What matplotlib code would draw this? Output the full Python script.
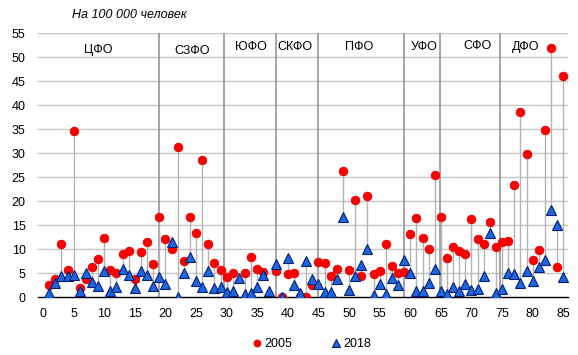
import numpy as np
import matplotlib
matplotlib.use("Agg")
import matplotlib.pyplot as plt
from matplotlib.lines import Line2D

plt.rcParams['font.family'] = ['Liberation Sans', 'DejaVu Sans']

regions = list(range(1, 86))

values_2005 = [
    2.6, 3.8, 11.0, 5.6, 34.6, 1.95, 3.7, 6.3, 7.9, 12.4,
    5.6, 5.1, 9.0, 9.6, 3.7, 9.4, 11.5, 6.9, 16.7, 12.2,
    10.0, 31.3, 7.5, 16.7, 13.4, 28.5, 11.0, 7.2, 5.6, 4.2,
    5.1, np.nan, 5.0, 8.3, 5.8, 5.3, np.nan, 5.4, 0.0, 4.8,
    5.0, 0.1, 0.1, 2.6, 7.3, 7.1, 4.4, 5.8, 26.2, 5.6,
    20.2, 4.4, 21.0, 4.9, 5.4, 11.0, 6.4, 5.1, 5.2, 13.1,
    16.5, 12.4, 10.0, 25.4, 16.7, 8.2, 10.5, 9.6, 9.0, 16.2,
    12.1, 11.0, 15.7, 10.5, 11.5, 11.7, 23.3, 38.6, 29.8, 7.7,
    9.9, 34.8, 51.8, 6.3, 46.0,
]

values_2018 = [
    0.9, 2.9, 4.4, 4.4, 4.7, 1.3, 5.1, 3.2, 2.4, 5.4,
    1.2, 2.2, 5.8, 4.6, 1.9, 5.4, 4.6, 2.3, 4.2, 2.8,
    11.5, 0.0, 5.0, 8.3, 3.3, 2.2, 5.4, 2.0, 2.2, 1.0,
    1.2, 3.9, 0.7, 0.8, 2.1, 4.7, 1.3, 6.9, 0.0, 8.2,
    2.6, 0.8, 7.6, 3.7, 2.7, 1.0, 1.0, 3.8, 16.6, 1.5,
    4.5, 6.6, 10.0, 0.5, 2.7, 0.7, 4.0, 2.6, 7.8, 5.1,
    1.3, 1.3, 3.0, 5.9, 1.25, 0.55, 2.1, 1.2, 2.8, 1.5,
    1.7, 4.4, 13.3, 0.8, 1.7, 5.1, 4.9, 3.0, 5.4, 3.3,
    6.3, 7.8, 18.1, 15.0, 4.1,
]

districts = ["ЦФО", "СЗФО", "ЮФО", "СКФО", "ПФО", "УФО", "СФО", "ДФО"]
district_label_x = [9.0, 24.3, 34.0, 41.2, 51.7, 62.2, 71.0, 78.8]
district_label_y = [51.5, 51.2, 52.0, 52.0, 52.0, 52.0, 52.3, 52.0]
district_separators = [18.9, 29.5, 38.05, 44.85, 58.95, 64.85, 74.7]

series_labels = ["2005", "2018"]
title_text = "На 100 000 человек"

x_ticks = list(range(0, 86, 5))
y_ticks = list(range(0, 56, 5))

fig = plt.figure(figsize=(5.78, 3.55), dpi=100)
ax = fig.add_axes([0.066, 0.163, 0.917, 0.744])

x = np.array(regions, dtype=float)
a = np.array(values_2005, dtype=float)
b = np.array(values_2018, dtype=float)

# grid
for yt in y_ticks[1:]:
    ax.axhline(yt, color="#c6c6c6", lw=1.0, zorder=0)

# district separators
for s in district_separators:
    ax.axvline(s, color="#8c8c8c", lw=1.1, zorder=1)

# drop lines between 2005 and 2018
mask = ~np.isnan(a) & ~np.isnan(b)
lo = np.minimum(a[mask], b[mask])
hi = np.maximum(a[mask], b[mask])
ax.vlines(x[mask], lo, hi, color="#b4b4b4", lw=1.0, zorder=2)

ax.plot(x, a, linestyle="none", marker="o", ms=6.2, mfc="#ff0000",
        mec="#e00000", mew=0.6, zorder=3)
ax.plot(x, b, linestyle="none", marker="^", ms=6.6, mfc="#1f66dd",
        mec="#00207a", mew=0.8, zorder=4)

for lab, lx, ly in zip(districts, district_label_x, district_label_y):
    ax.text(lx, ly, lab, ha="center", va="center", fontsize=9, color="#000000", zorder=5)

ax.set_xlim(-0.8, 85.8)
ax.set_ylim(0, 55)
ax.set_xticks(x_ticks)
ax.set_yticks(y_ticks)
ax.tick_params(axis="both", length=0, labelsize=9, colors="#000000")
ax.tick_params(axis="y", pad=9)
ax.tick_params(axis="x", pad=8)
for side in ["top", "right", "left"]:
    ax.spines[side].set_visible(False)
ax.spines["bottom"].set_color("#000000")
ax.spines["bottom"].set_linewidth(1.0)
ax.set_facecolor("white")

fig.text(0.125, 0.958, title_text, fontsize=9, style="italic", ha="left", va="center")

handles = [
    Line2D([], [], linestyle="none", marker="o", ms=5, mfc="#ff0000", mec="#e00000", mew=0.6),
    Line2D([], [], linestyle="none", marker="^", ms=5.5, mfc="#1f66dd", mec="#00207a", mew=0.8),
]
fig.legend(handles, series_labels, loc="center", bbox_to_anchor=(0.54, 0.03), ncol=2,
           frameon=False, fontsize=9, handlelength=0.6, handletextpad=0.3, columnspacing=3.2)

fig.savefig("out.png", dpi=100, facecolor="white")
